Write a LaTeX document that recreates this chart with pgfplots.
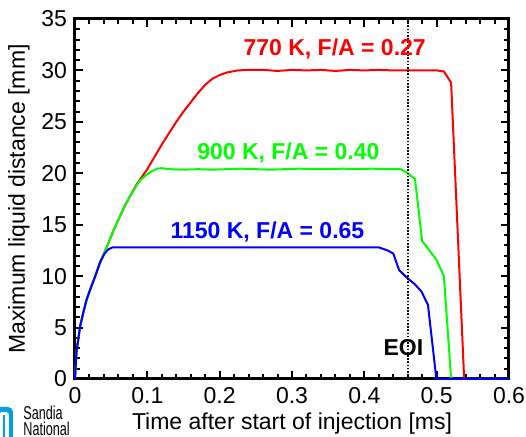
\documentclass[border=0pt]{standalone}
\usepackage{fontspec}
\setmainfont{Liberation Sans}
\usepackage{pgfplots}
\pgfplotsset{compat=1.18}

\definecolor{sandiablue}{RGB}{0,160,225}

\begin{document}
\fontsize{11.5}{13}\selectfont
\begin{tikzpicture}
\begin{axis}[
    at={(0,0)}, anchor=south west,
    scale only axis,
    width=217pt, height=180pt,
    xmin=0, xmax=0.6,
    ymin=0, ymax=35,
    xtick={0,0.1,...,0.6},
    ytick={0,5,...,35},
    minor x tick num=4,
    minor y tick num=4,
    tick align=inside,
    major tick length=4pt,
    minor tick length=2.5pt,
    every tick/.style={black, line width=1pt},
    axis line style={line width=1.5pt},
    xlabel={Time after start of injection [ms]},
    ylabel={Maximum liquid distance [mm]},
    ticklabel style={font=\fontsize{11.5}{13}\selectfont},
    label style={font=\fontsize{11.5}{13}\selectfont},
    xlabel style={yshift=3pt},
    ylabel style={yshift=-2pt},
    /pgf/number format/assume math mode=true,
    clip=false,
]

% 770 K
\addplot[red, line width=1pt] coordinates {
(0,0) (0.002,2.6) (0.007,5.1) (0.012,6.6) (0.016,7.7) (0.021,8.7)
(0.028,10.0) (0.035,11.4) (0.045,13.0) (0.053,14.4) (0.062,15.8)
(0.07,17.0) (0.078,18.0) (0.085,18.9) (0.092,19.6) (0.1,20.4)
(0.11,21.6) (0.12,22.8) (0.13,23.9) (0.14,25.0) (0.15,26.0)
(0.16,26.9) (0.17,27.8) (0.18,28.6) (0.19,29.2) (0.2,29.55)
(0.21,29.8) (0.225,30.0) (0.24,30.05) (0.26,30.05) (0.28,29.95)
(0.3,30.05) (0.32,30.0) (0.34,30.05) (0.36,29.95) (0.38,30.05)
(0.4,30.0) (0.42,30.05) (0.44,30.0) (0.46,30.0) (0.48,30.0)
(0.5,30.0) (0.51,29.9) (0.52,28.8) (0.538,0) (0.6,0)
};

% 900 K
\addplot[green, line width=1pt] coordinates {
(0,0) (0.002,2.6) (0.007,5.1) (0.012,6.6) (0.016,7.7) (0.021,8.7)
(0.028,10.0) (0.035,11.4) (0.045,13.0) (0.053,14.4) (0.062,15.8)
(0.07,17.0) (0.078,18.0) (0.085,18.8) (0.09,19.3) (0.098,19.8)
(0.106,20.2) (0.114,20.45) (0.12,20.5) (0.13,20.4) (0.15,20.35)
(0.17,20.4) (0.19,20.35) (0.21,20.4) (0.23,20.45) (0.25,20.4)
(0.27,20.35) (0.29,20.4) (0.31,20.45) (0.33,20.4) (0.35,20.4)
(0.37,20.45) (0.39,20.4) (0.41,20.45) (0.43,20.4) (0.45,20.4)
(0.458,20.1) (0.47,19.45) (0.48,13.4) (0.49,12.5) (0.4996,11.6)
(0.51,10.0) (0.52,0) (0.6,0)
};

% 1150 K
\addplot[blue, line width=1pt] coordinates {
(0,0) (0.002,2.6) (0.007,5.1) (0.012,6.6) (0.016,7.7) (0.021,8.7)
(0.028,10.0) (0.035,11.4) (0.041,12.2) (0.046,12.6) (0.052,12.8)
(0.06,12.8) (0.1,12.8) (0.2,12.8) (0.3,12.8) (0.42,12.8)
(0.432,12.5) (0.44,12.2) (0.448,10.6) (0.458,9.9) (0.47,9.2)
(0.479,8.5) (0.488,7.2) (0.4996,0) (0.6,0)
};

% end of injection
\addplot[black, line width=0.9pt, dash pattern=on 0.8pt off 0.8pt] coordinates {(0.46,0) (0.46,35)};

\node[red, font=\fontsize{11.5}{13}\selectfont\bfseries] at (axis cs:0.359,32.1) {770 K, F/A = 0.27};
\node[green, font=\fontsize{11.5}{13}\selectfont\bfseries] at (axis cs:0.295,22.0) {900 K, F/A = 0.40};
\node[blue, font=\fontsize{11.5}{13}\selectfont\bfseries] at (axis cs:0.266,14.3) {1150 K, F/A = 0.65};
\node[black, font=\fontsize{11.5}{13}\selectfont\bfseries] at (axis cs:0.454,3.1) {EOI};
\end{axis}

% logo corner
\fill[sandiablue, rounded corners=2.5pt] (-40pt,-36pt) rectangle (-31pt,-14pt);
\fill[white, rounded corners=1.5pt] (-38pt,-36pt) rectangle (-33pt,-16.5pt);
\fill[sandiablue] (-36pt,-36pt) rectangle (-35pt,-18pt);
\node[anchor=base west, inner sep=0pt, font=\fontsize{9.3}{10}\selectfont] at (-26pt,-20.3pt) {\scalebox{0.68}[1]{Sandia}};
\node[anchor=base west, inner sep=0pt, font=\fontsize{9.3}{10}\selectfont] at (-26pt,-28.2pt) {\scalebox{0.68}[1]{National}};

\pgfresetboundingbox
\path[use as bounding box] (-37.5pt,-29pt) rectangle (225.5pt,189.5pt);
\end{tikzpicture}
\end{document}
